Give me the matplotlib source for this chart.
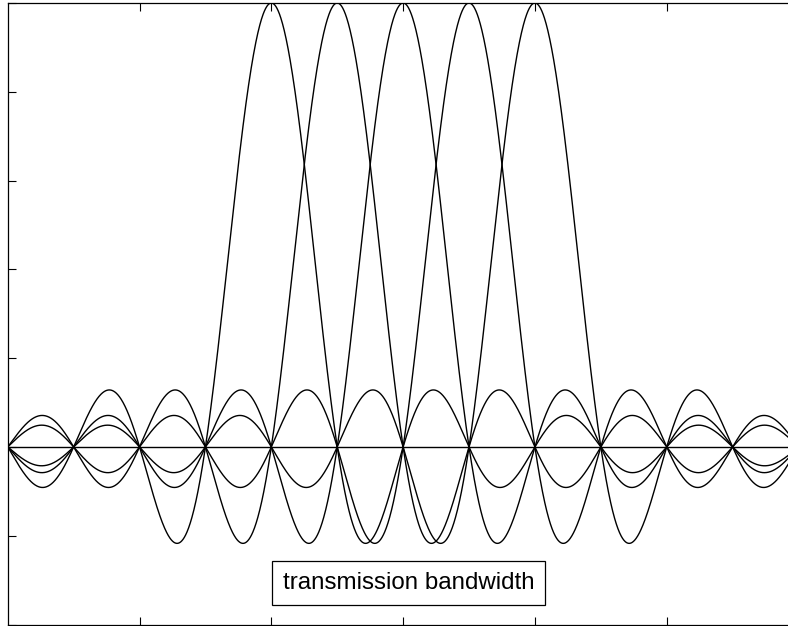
import numpy as np
import matplotlib.pyplot as plt

# subcarrier centre frequencies (in units of subcarrier spacing)
carriers = [-2, -1, 0, 1, 2]
xlim = (-6, 6)
ylim = (-0.4, 1.0)
xticks = [-4, -2, 0, 2, 4]
yticks = [-0.4, -0.2, 0.0, 0.2, 0.4, 0.6, 0.8, 1.0]
label = 'transmission bandwidth'

plt.rcParams['font.family'] = ['Liberation Sans', 'DejaVu Sans']

fig = plt.figure(figsize=(7.88, 6.26), dpi=100)
W, H = 788., 626.
ax = fig.add_axes([7.75/W, 1.5/H, 790.75/W, (H-4.5)/H])

f = np.linspace(xlim[0], xlim[1], 2401)
for c in carriers:
    ax.plot(f, np.sinc(f-c), c='k', lw=1.0)
ax.axhline(0, c='k', lw=1.0)

ax.set_xlim(xlim)
ax.set_ylim(ylim)
ax.set_xticks(xticks)
ax.set_yticks(yticks)
ax.tick_params(direction='in', length=6, width=0.8, top=True, right=True,
               labelbottom=False, labelleft=False)
for s in ax.spines.values():
    s.set_linewidth(0.9)

ax.text(0.08, -0.306, label, fontsize=17.4, ha='center', va='center',
        bbox=dict(boxstyle='square,pad=0.45', fc='white', ec='k', lw=0.9))

fig.savefig('out.png', dpi=100)
